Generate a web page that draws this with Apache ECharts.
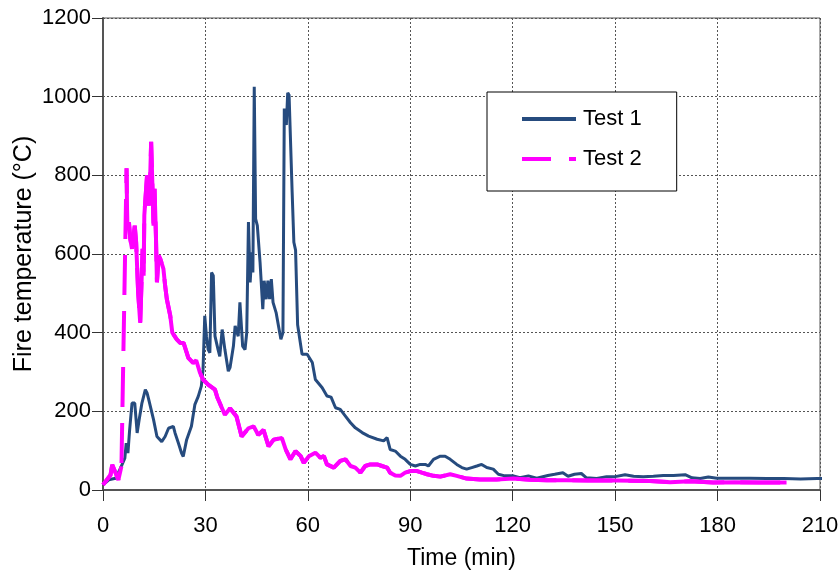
<!DOCTYPE html>
<html>
<head>
<meta charset="utf-8">
<script src="https://cdn.jsdelivr.net/npm/echarts@6/dist/echarts.min.js"></script>
<style>html,body{margin:0;padding:0;background:#fff}#c{width:840px;height:579px}</style>
</head>
<body>
<div id="c"></div>
<script>
// ---- data ----
const xTicks = [0, 30, 60, 90, 120, 150, 180, 210];
const yTicks = [0, 200, 400, 600, 800, 1000, 1200];

const test1Time = [0,1.7,3.7,5.1,6.4,6.8,7.3,7.8,8.5,9.3,10.0,10.6,11.4,12.4,12.9,13.4,13.8,14.8,15.8,17.2,18.2,19.2,20.6,21.1,22.1,23.0,23.5,24.5,25.9,26.9,27.9,28.8,29.3,29.8,30.3,30.8,31.3,31.8,32.3,32.8,33.7,34.2,34.9,35.7,36.7,37.2,38.2,38.7,39.6,40.1,40.9,41.6,42.1,42.6,43.1,43.6,43.9,44.3,44.7,45.2,46.0,46.8,47.2,47.8,48.3,48.8,49.3,49.8,50.7,51.4,52.1,52.7,53.1,53.7,54.1,54.5,55.4,55.9,56.4,57.0,58.3,59.8,61.3,62.2,64.2,65.6,66.8,68.1,69.5,71.0,72.5,73.9,75.9,77.8,80.3,82.2,83.2,84.1,85.6,87.1,88.5,90.0,91.5,92.9,94.4,95.3,96.8,98.8,100.2,101.7,103.6,105.1,106.5,108.0,109.5,110.9,112.4,114.3,115.8,117.7,120.2,122.1,124.6,127.0,130.3,132.3,134.7,136.2,138.1,140.1,141.6,144.6,147.5,150.0,152.9,155.4,158.2,161.2,164.1,167.1,170.5,172.5,174.9,177.3,179.8,184.6,189.5,194.4,199.4,204.3,209.2,214.1,215.5];
const test1Temp = [13,26,30,55,81,119,94,153,221,221,145,179,221,255,247,230,234,179,136,123,136,157,162,145,119,94,85,128,162,217,238,264,306,443,391,357,349,553,545,391,357,340,408,357,302,311,366,417,391,477,366,357,400,681,528,604,553,1025,689,672,579,460,532,485,532,485,536,477,451,417,383,400,970,928,1010,1004,757,630,610,420,345,345,324,281,260,239,236,209,205,188,171,158,146,137,129,125,133,103,99,86,78,65,61,65,65,61,78,86,86,78,65,57,53,57,61,65,57,53,40,36,36,31,36,30,37,40,44,35,40,42,31,29,34,34,39,35,34,35,37,37,39,31,29,33,30,30,30,29,29,28,29,29,25];

const test2Time = [0,2.2,2.7,3.7,4.5,5.4,6.9,7.1,7.6,8.0,8.5,9.3,9.7,10.3,10.9,11.2,11.6,11.9,12.1,12.9,13.4,13.7,14.1,14.5,14.8,15.1,15.5,15.8,16.3,16.8,17.7,18.2,18.7,19.7,20.3,21.6,22.6,23.6,25.0,26.4,27.3,28.4,29.3,30.8,32.8,33.5,34.2,35.7,37.2,39.1,40.6,42.6,44.1,45.5,47.0,48.5,50.0,52.4,53.5,54.9,56.4,57.9,58.8,60.3,62.2,63.7,64.7,65.6,67.6,69.5,71.0,72.5,73.9,75.4,76.8,78.3,80.3,81.7,83.2,84.1,85.6,87.1,88.5,90.0,92.0,93.4,94.9,96.8,98.8,101.7,103.6,106.5,110.4,115.3,120.2,125.1,130.0,135.7,142.0,150.0,160.2,166.1,172.0,178.7,185.0,192.0,200.2];
const test2Temp = [13,38,64,43,26,60,818,672,680,638,613,672,630,502,425,420,613,545,698,800,723,757,885,766,672,766,647,528,596,587,562,519,485,443,400,383,374,374,336,323,330,298,281,268,255,235,221,191,208,187,136,157,162,140,153,111,128,132,103,78,99,86,69,86,95,82,86,65,57,74,78,61,57,44,61,65,65,61,57,44,37,36,44,48,48,44,40,36,34,40,36,29,27,27,29,26,25,25,24,24,23,20,22,19,20,19,19];

const seriesNames = ['Test 1', 'Test 2'];
const seriesColors = ['#264B7E', '#FF00FF'];

// ---- build ----
const pts1 = test1Time.map((t, i) => [t, test1Temp[i]]);
const pts2 = test2Time.map((t, i) => [t, test2Temp[i]]);
// the steep rise of Test 2 shows its dash pattern; elsewhere the dense record looks solid
const peakIdx = test2Temp.indexOf(Math.max.apply(null, test2Temp.slice(0, 10)));
const solid2 = pts2.slice(0, peakIdx).concat([[test2Time[peakIdx - 1], '-']], pts2.slice(peakIdx));

const FONT = 'Liberation Sans, Arial, sans-serif';
const chart = echarts.init(document.getElementById('c'), null, {renderer: 'canvas'});
chart.setOption({
  animation: false,
  backgroundColor: '#fff',
  textStyle: {fontFamily: FONT, color: '#000'},
  grid: {left: 103, right: 20, top: 18, bottom: 89, show: true, borderColor: '#555', borderWidth: 1,
         backgroundColor: 'transparent', containLabel: false, outerBoundsMode: 'none'},
  legend: {
    data: [
      {name: seriesNames[0], lineStyle: {width: 4}},
      {name: seriesNames[1], lineStyle: {type: [29, 18], width: 4}}
    ],
    orient: 'vertical',
    left: 487, top: 92,
    backgroundColor: '#fff',
    borderColor: '#000', borderWidth: 1,
    padding: [16, 35, 21, 33],
    itemWidth: 54, itemHeight: 14, itemGap: 18,
    itemStyle: {opacity: 0, borderWidth: 0},
    textStyle: {fontFamily: FONT, fontSize: 22, color: '#000', lineHeight: 22, padding: [0, 0, 0, 2]},
    selectedMode: false
  },
  xAxis: {
    type: 'value', min: xTicks[0], max: xTicks[xTicks.length - 1], interval: 30,
    name: 'Time (min)', nameLocation: 'middle', nameGap: 57, nameMoveOverlap: false,
    nameTextStyle: {fontFamily: FONT, fontSize: 23, color: '#000'},
    axisLine: {show: true, lineStyle: {color: '#555', width: 2}},
    axisTick: {show: true, inside: false, length: 11, lineStyle: {color: '#333', width: 1}},
    axisLabel: {margin: 25, fontSize: 22, color: '#000', fontFamily: FONT, formatter: v => String(v)},
    splitLine: {show: true, lineStyle: {type: [2, 2], color: '#555', width: 1}}
  },
  yAxis: {
    type: 'value', min: yTicks[0], max: yTicks[yTicks.length - 1], interval: 200,
    name: 'Fire temperature (°C)', nameLocation: 'middle', nameGap: 66, nameMoveOverlap: false,
    nameTextStyle: {fontFamily: FONT, fontSize: 25, color: '#000'},
    axisLine: {show: true, lineStyle: {color: '#555', width: 2}},
    axisTick: {show: true, inside: false, length: 11, lineStyle: {color: '#333', width: 1}},
    axisLabel: {margin: 12, fontSize: 22, color: '#000', fontFamily: FONT, formatter: v => String(v)},
    splitLine: {show: true, lineStyle: {type: [2, 2], color: '#555', width: 1}}
  },
  series: [
    {
      name: seriesNames[0], type: 'line', data: pts1, symbol: 'none', clip: false,
      lineStyle: {color: seriesColors[0], width: 3}, itemStyle: {color: seriesColors[0]}, z: 3
    },
    {
      name: seriesNames[1], type: 'line', data: pts2, symbol: 'none',
      lineStyle: {color: seriesColors[1], width: 4, type: [40, 16]}, itemStyle: {color: seriesColors[1]}, z: 4
    },
    {
      name: '', type: 'line', data: solid2, symbol: 'none', connectNulls: false,
      lineStyle: {color: seriesColors[1], width: 4}, itemStyle: {color: seriesColors[1]}, z: 4, silent: true
    }
  ]
});
</script>
</body>
</html>
